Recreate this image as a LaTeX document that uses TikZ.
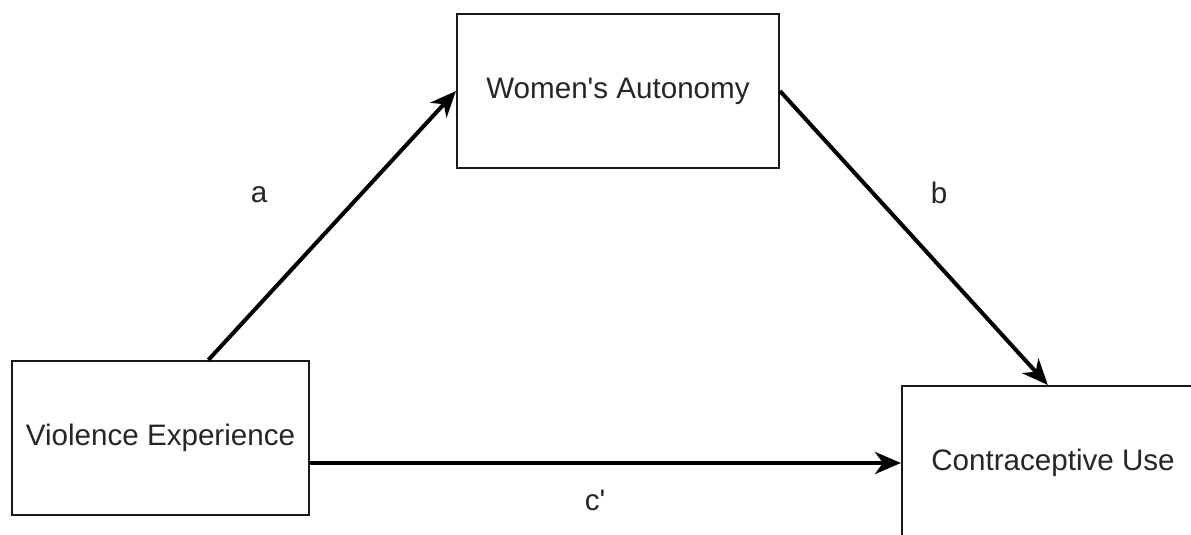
\documentclass[tikz,border=0pt]{standalone}
\usepackage{fontspec}
\newfontfamily\diagfont{Liberation Sans}
\usetikzlibrary{arrows.meta,calc}
\begin{document}
\begin{tikzpicture}[x=0.5pt,y=-0.5pt,
  every node/.style={font=\diagfont\fontsize{14.8pt}{17pt}\selectfont, text=black!85},
  varbox/.style={draw=black!90, line width=1pt, fill=white, minimum height=77pt, inner sep=0pt},
  path/.style={line width=2pt, -{Stealth[length=13pt,width=11pt,inset=4pt]}},
  coef/.style={inner sep=0pt}]
  \clip (0,0) rectangle (1191,535);
  \fill[white] (0,0) rectangle (1191,535);

  % variables
  \node[varbox, minimum width=161pt] (wa) at (618,91) {Women's Autonomy};
  \node[varbox, minimum width=148.5pt] (ve) at (160.5,438) {Violence Experience};
  \node[varbox, minimum width=151pt] (cu) at (1053,463) {Contraceptive Use};

  % paths of the mediation model
  \draw[path] ($(ve.north west)!0.66!(ve.north east)$) -- (wa.west);
  \draw[path] (wa.east) -- ($(cu.north west)!0.483!(cu.north east)$);
  \draw[path] (ve.east |- cu.west) -- (cu.west);

  % path coefficients
  \node[coef] (la) at (259,195) {a};
  \node[coef] (lb) at (939,193) {b};
  \node[coef] (lc) at (595,500) {c'};
\end{tikzpicture}
\end{document}
